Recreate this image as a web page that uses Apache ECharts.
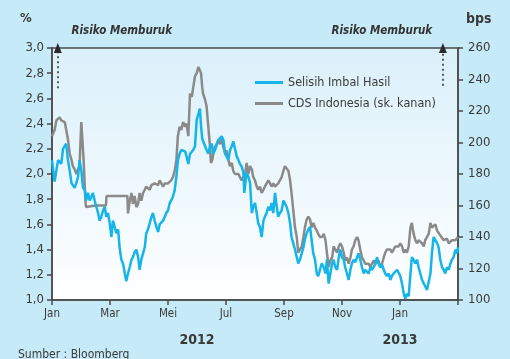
<!DOCTYPE html>
<html>
<head>
<meta charset="utf-8">
<script src="https://cdn.jsdelivr.net/npm/echarts@6/dist/echarts.min.js"></script>
<style>
  html, body { margin: 0; padding: 0; background: #c6eaf7; }
  #chart { width: 510px; height: 359px; }
</style>
</head>
<body>
<div id="chart"></div>
<script>
// x positions are months since Jan 2012 (0 = Jan 2012, 12 = Jan 2013)
var monthLabels = ['Jan', 'Mar', 'Mei', 'Jul', 'Sep', 'Nov', 'Jan', ''];
var yearLabels = ['2012', '2013'];
var yearPos = [5, 12];
var arrowPos = [0.2, 13.48];

// Selisih Imbal Hasil (%), left axis
var selisihX = [0.00, 0.09, 0.21, 0.32, 0.38, 0.49, 0.55, 0.61, 0.67, 0.78, 0.84, 0.90, 0.95, 1.01, 1.07, 1.13, 1.18, 1.24, 1.30, 1.36,
    1.41, 1.47, 1.53, 1.59, 1.64, 1.70, 1.76, 1.82, 1.87, 1.93, 1.99, 2.05, 2.10, 2.16, 2.22, 2.28, 2.33, 2.39, 2.45, 2.51,
    2.56, 2.62, 2.68, 2.74, 2.79, 2.85, 2.91, 2.97, 3.02, 3.08, 3.14, 3.20, 3.25, 3.31, 3.37, 3.43, 3.48, 3.54, 3.60, 3.66,
    3.71, 3.77, 3.83, 3.89, 3.94, 4.00, 4.06, 4.11, 4.17, 4.23, 4.29, 4.34, 4.40, 4.46, 4.52, 4.59, 4.64, 4.70, 4.76, 4.82,
    4.87, 4.93, 4.99, 5.05, 5.10, 5.14, 5.18, 5.21, 5.28, 5.33, 5.39, 5.45, 5.51, 5.56, 5.62, 5.68, 5.74, 5.79, 5.85, 5.91,
    5.97, 6.02, 6.08, 6.14, 6.20, 6.25, 6.31, 6.37, 6.43, 6.48, 6.54, 6.60, 6.63, 6.68, 6.71, 6.77, 6.83, 6.89, 6.94, 7.00,
    7.06, 7.11, 7.17, 7.23, 7.29, 7.34, 7.40, 7.46, 7.52, 7.57, 7.63, 7.69, 7.75, 7.80, 7.86, 7.92, 7.98, 8.03, 8.09, 8.15,
    8.21, 8.26, 8.32, 8.38, 8.44, 8.49, 8.55, 8.61, 8.67, 8.72, 8.78, 8.84, 8.90, 8.95, 9.01, 9.07, 9.13, 9.18, 9.24, 9.30,
    9.37, 9.43, 9.48, 9.54, 9.60, 9.66, 9.71, 9.77, 9.83, 9.89, 9.94, 10.00, 10.06, 10.11, 10.17, 10.23, 10.29, 10.34, 10.40, 10.46,
    10.52, 10.57, 10.63, 10.69, 10.75, 10.80, 10.86, 10.92, 10.98, 11.03, 11.09, 11.15, 11.21, 11.26, 11.32, 11.38, 11.44, 11.49, 11.55, 11.61,
    11.67, 11.72, 11.78, 11.84, 11.90, 11.95, 12.01, 12.07, 12.13, 12.18, 12.24, 12.30, 12.36, 12.41, 12.47, 12.53, 12.59, 12.64, 12.70, 12.76,
    12.82, 12.87, 12.93, 12.99, 13.05, 13.10, 13.16, 13.22, 13.28, 13.33, 13.39, 13.45, 13.51, 13.56, 13.62, 13.68, 13.74, 13.79, 13.85, 13.91,
    13.97, 14.00];
var selisihY = [2.11, 1.94, 2.11, 2.08, 2.20, 2.24, 2.11, 2.03, 1.93, 1.89, 1.93, 1.98, 2.11, 2.03, 1.89, 1.87, 1.79, 1.85, 1.79, 1.82,
    1.85, 1.79, 1.74, 1.69, 1.63, 1.66, 1.71, 1.74, 1.66, 1.69, 1.61, 1.50, 1.63, 1.58, 1.53, 1.56, 1.42, 1.32, 1.29, 1.21,
    1.15, 1.21, 1.26, 1.32, 1.34, 1.38, 1.40, 1.34, 1.24, 1.32, 1.37, 1.42, 1.53, 1.56, 1.61, 1.66, 1.69, 1.63, 1.58, 1.54,
    1.60, 1.61, 1.63, 1.66, 1.69, 1.71, 1.77, 1.79, 1.82, 1.87, 1.98, 2.11, 2.16, 2.19, 2.18, 2.18, 2.14, 2.08, 2.16, 2.15,
    2.19, 2.22, 2.43, 2.44, 2.52, 2.38, 2.28, 2.27, 2.22, 2.19, 2.16, 2.22, 2.24, 2.16, 2.19, 2.23, 2.27, 2.28, 2.30, 2.27,
    2.16, 2.14, 2.11, 2.19, 2.22, 2.26, 2.20, 2.14, 2.11, 2.08, 2.06, 2.01, 1.85, 1.95, 2.01, 1.98, 1.93, 1.69, 1.74, 1.77,
    1.69, 1.61, 1.58, 1.50, 1.63, 1.66, 1.69, 1.74, 1.71, 1.77, 1.69, 1.85, 1.74, 1.66, 1.69, 1.71, 1.79, 1.78, 1.74, 1.69,
    1.61, 1.50, 1.45, 1.40, 1.34, 1.29, 1.32, 1.37, 1.42, 1.48, 1.53, 1.56, 1.58, 1.48, 1.37, 1.32, 1.21, 1.19, 1.24, 1.29,
    1.26, 1.21, 1.32, 1.13, 1.21, 1.29, 1.32, 1.26, 1.24, 1.34, 1.40, 1.34, 1.32, 1.26, 1.21, 1.16, 1.24, 1.29, 1.32, 1.30,
    1.34, 1.37, 1.32, 1.26, 1.21, 1.24, 1.24, 1.21, 1.26, 1.24, 1.26, 1.29, 1.34, 1.29, 1.26, 1.28, 1.24, 1.21, 1.19, 1.21,
    1.16, 1.19, 1.21, 1.21, 1.24, 1.24, 1.19, 1.13, 1.05, 1.01, 1.05, 1.03, 1.21, 1.34, 1.32, 1.29, 1.32, 1.26, 1.21, 1.16,
    1.13, 1.11, 1.08, 1.08, 1.21, 1.37, 1.50, 1.50, 1.45, 1.42, 1.32, 1.26, 1.24, 1.21, 1.26, 1.24, 1.29, 1.32, 1.34, 1.40,
    1.37, 1.42];

// CDS Indonesia (bps), right axis
var cdsX = [0.00, 0.09, 0.15, 0.26, 0.32, 0.38, 0.44, 0.49, 0.55, 0.61, 0.67, 0.72, 0.78, 0.84, 0.90, 0.95, 1.01, 1.05, 1.09, 1.13,
    1.16, 1.18, 1.50, 1.86, 1.88, 2.60, 2.62, 2.68, 2.74, 2.79, 2.85, 2.91, 2.97, 3.02, 3.08, 3.14, 3.20, 3.25, 3.31, 3.37,
    3.43, 3.48, 3.54, 3.60, 3.66, 3.71, 3.77, 3.83, 3.89, 3.94, 4.00, 4.06, 4.11, 4.17, 4.23, 4.29, 4.34, 4.40, 4.46, 4.52,
    4.59, 4.64, 4.70, 4.76, 4.82, 4.87, 4.93, 4.99, 5.05, 5.10, 5.14, 5.18, 5.21, 5.28, 5.33, 5.39, 5.45, 5.48, 5.53, 5.56,
    5.62, 5.68, 5.74, 5.79, 5.85, 5.91, 5.97, 6.02, 6.08, 6.14, 6.20, 6.25, 6.31, 6.37, 6.43, 6.48, 6.54, 6.60, 6.66, 6.71,
    6.77, 6.83, 6.89, 6.94, 7.00, 7.06, 7.11, 7.17, 7.23, 7.29, 7.34, 7.40, 7.46, 7.52, 7.57, 7.63, 7.69, 7.75, 7.80, 7.86,
    7.92, 7.98, 8.03, 8.09, 8.15, 8.21, 8.26, 8.32, 8.38, 8.44, 8.49, 8.55, 8.61, 8.67, 8.72, 8.78, 8.84, 8.90, 8.95, 9.01,
    9.07, 9.13, 9.18, 9.24, 9.31, 9.37, 9.43, 9.48, 9.54, 9.60, 9.66, 9.71, 9.77, 9.83, 9.89, 9.94, 10.00, 10.06, 10.11, 10.17,
    10.23, 10.29, 10.34, 10.40, 10.46, 10.52, 10.57, 10.63, 10.69, 10.75, 10.80, 10.86, 10.92, 10.98, 11.03, 11.09, 11.15, 11.21, 11.26, 11.32,
    11.38, 11.44, 11.49, 11.55, 11.61, 11.67, 11.72, 11.78, 11.84, 11.90, 11.95, 12.01, 12.07, 12.13, 12.18, 12.24, 12.30, 12.36, 12.41, 12.47,
    12.53, 12.59, 12.64, 12.70, 12.76, 12.82, 12.87, 12.93, 12.99, 13.05, 13.10, 13.16, 13.22, 13.28, 13.33, 13.39, 13.45, 13.51, 13.56, 13.62,
    13.68, 13.74, 13.79, 13.85, 13.91, 13.97, 14.00];
var cdsY = [204, 208, 214, 216, 214, 215, 213, 212, 202, 193, 189, 185, 183, 180, 183, 185, 213, 212, 189, 172,
    161, 159, 160, 160, 166, 166, 155, 163, 168, 161, 166, 159, 161, 168, 163, 168, 170, 172, 171, 170,
    173, 172, 174, 175, 173, 176, 174, 172, 174, 173, 174, 175, 176, 178, 182, 189, 204, 210, 208, 213,
    210, 212, 204, 231, 229, 235, 242, 244, 248, 249, 244, 235, 231, 227, 223, 210, 197, 187, 189, 193,
    197, 199, 202, 199, 202, 197, 193, 195, 189, 185, 187, 182, 180, 179, 180, 178, 176, 178, 180, 187,
    180, 185, 183, 178, 176, 172, 170, 172, 168, 170, 172, 174, 176, 174, 172, 174, 172, 173, 174, 174,
    178, 182, 185, 185, 182, 176, 168, 157, 146, 140, 130, 132, 134, 140, 146, 151, 153, 151, 146, 149,
    146, 144, 142, 140, 140, 142, 138, 130, 121, 125, 127, 134, 132, 130, 134, 136, 134, 130, 125, 127,
    123, 127, 132, 134, 138, 140, 138, 132, 127, 125, 123, 122, 123, 121, 123, 125, 123, 124, 125, 121,
    123, 127, 130, 132, 131, 132, 130, 132, 134, 134, 134, 136, 134, 130, 132, 130, 134, 146, 149, 142,
    138, 136, 138, 137, 136, 134, 138, 140, 142, 149, 146, 146, 148, 144, 144, 141, 140, 138, 138, 139,
    136, 136, 138, 137, 138, 139, 140];

function pairs(xs, ys) {
    var out = [];
    for (var i = 0; i < xs.length; i++) {
        out.push([xs[i], ys[i]]);
    }
    return out;
}

var fontMain = "'Liberation Sans Narrow', 'DejaVu Sans Condensed', sans-serif";
var textColor = '#3a3a3a';
var axisColor = '#4a4a4a';

var chart = echarts.init(document.getElementById('chart'));
var option = {
    animation: false,
    backgroundColor: '#c6eaf7',
    textStyle: { fontFamily: fontMain },
    grid: {
        left: 52,
        right: 52,
        top: 48,
        bottom: 59,
        show: true,
        borderColor: axisColor,
        borderWidth: 1.5,
        backgroundColor: {
            type: 'linear', x: 0, y: 0, x2: 0, y2: 1,
            colorStops: [
                { offset: 0, color: '#daf0fa' },
                { offset: 1, color: '#ffffff' }
            ]
        }
    },
    legend: {
        orient: 'vertical',
        left: 250,
        top: 71,
        itemWidth: 28,
        itemHeight: 3,
        itemGap: 8,
        icon: 'rect',
        textStyle: { fontFamily: fontMain, fontSize: 12.5, color: textColor },
        data: [
            { name: 'Selisih Imbal Hasil', itemStyle: { color: '#15b4e9' } },
            { name: 'CDS Indonesia (sk. kanan)', itemStyle: { color: '#8a8a8a' } }
        ]
    },
    xAxis: {
        type: 'value',
        min: 0,
        max: 14,
        interval: 2,
        axisLine: { lineStyle: { color: axisColor, width: 1.5 } },
        axisTick: { length: 5, lineStyle: { color: axisColor, width: 1.5 } },
        splitLine: { show: false },
        axisLabel: {
            fontSize: 11.5,
            color: textColor,
            margin: 8,
            formatter: function (v) { return monthLabels[Math.round(v / 2)]; }
        }
    },
    yAxis: [
        {
            type: 'value',
            min: 1,
            max: 3,
            interval: 0.2,
            position: 'left',
            axisLine: { show: true, lineStyle: { color: axisColor, width: 1.5 } },
            axisTick: { show: true, length: 5, lineStyle: { color: axisColor, width: 1.5 } },
            splitLine: { show: false },
            axisLabel: {
                fontSize: 13,
                color: textColor,
                margin: 8,
                formatter: function (v) { return v.toFixed(1).replace('.', ','); }
            }
        },
        {
            type: 'value',
            min: 100,
            max: 260,
            interval: 20,
            position: 'right',
            axisLine: { show: true, lineStyle: { color: axisColor, width: 1.5 } },
            axisTick: { show: true, length: 5, lineStyle: { color: axisColor, width: 1.5 } },
            splitLine: { show: false },
            axisLabel: { fontSize: 13, color: textColor, margin: 10 }
        }
    ],
    series: [
        {
            name: 'CDS Indonesia (sk. kanan)',
            type: 'line',
            yAxisIndex: 1,
            symbol: 'none',
            lineStyle: { color: '#8a8a8a', width: 2.5 },
            itemStyle: { color: '#8a8a8a' },
            data: pairs(cdsX, cdsY),
            z: 2
        },
        {
            name: 'Selisih Imbal Hasil',
            type: 'line',
            yAxisIndex: 0,
            symbol: 'none',
            lineStyle: { color: '#15b4e9', width: 2.5 },
            itemStyle: { color: '#15b4e9' },
            data: pairs(selisihX, selisihY),
            z: 3,
            markLine: {
                silent: true,
                symbol: ['none', 'triangle'],
                symbolSize: [8, 10],
                label: { show: false },
                lineStyle: { color: '#2a2a2a', type: [2, 3], width: 1.5 },
                data: [
                    [{ coord: [arrowPos[0], 2.68] }, { coord: [arrowPos[0], 3.0] }],
                    [{ coord: [arrowPos[1], 2.7] }, { coord: [arrowPos[1], 3.0] }]
                ]
            }
        }
    ]
};
chart.setOption(option);

// text outside the plot: units, annotations, years, source
var graphics = [
    { type: 'text', left: 20, top: 12, style: { text: '%', font: "bold 13px " + fontMain, fill: textColor } },
    { type: 'text', left: 466, top: 12, style: { text: 'bps', font: "bold 14px " + fontMain, fill: textColor } }
];
arrowPos.forEach(function (m) {
    var px = chart.convertToPixel({ xAxisIndex: 0 }, m);
    graphics.push({
        type: 'text',
        x: px + (m < 7 ? 64 : -61),
        y: 31,
        style: {
            text: 'Risiko Memburuk',
            font: "italic bold 11.5px " + fontMain,
            fill: '#333',
            align: 'center',
            verticalAlign: 'middle'
        }
    });
});
yearLabels.forEach(function (t, i) {
    graphics.push({
        type: 'text',
        x: chart.convertToPixel({ xAxisIndex: 0 }, yearPos[i]),
        y: 340,
        style: { text: t, font: "bold 14px " + fontMain, fill: textColor, align: 'center', verticalAlign: 'middle' }
    });
});
graphics.push({ type: 'text', left: 18, top: 349, style: { text: 'Sumber : Bloomberg', font: "12px " + fontMain, fill: textColor } });
chart.setOption({ graphic: graphics });
</script>
</body>
</html>
